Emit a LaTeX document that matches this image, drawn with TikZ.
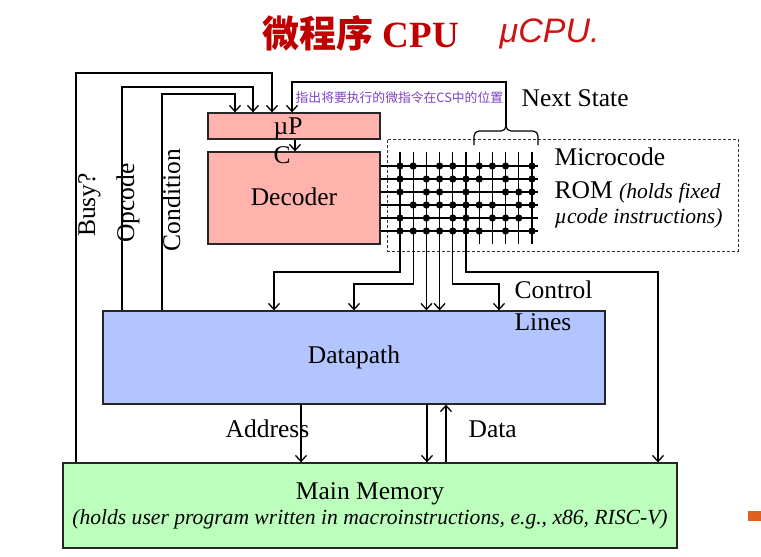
\documentclass[tikz,border=0pt]{standalone}
\usepackage{fontspec}
\setmainfont{Liberation Serif}
\newfontfamily\cjk{Noto Sans CJK SC}
\newfontfamily\hand{Liberation Sans}
\usetikzlibrary{arrows.meta}
\definecolor{pinkf}{RGB}{255,179,172}
\definecolor{bluef}{RGB}{179,197,255}
\definecolor{greenf}{RGB}{188,255,188}
\definecolor{titred}{RGB}{192,0,0}
\definecolor{handred}{RGB}{205,20,20}
\definecolor{purp}{RGB}{125,65,195}
\definecolor{orng}{RGB}{224,96,32}
\tikzset{
  boxx/.style={draw=black!85, line width=1.3pt, inner sep=0pt},
  txt/.style={font=\fontsize{25.5}{29}\selectfont, inner sep=0pt},
  itx/.style={font=\fontsize{21.6}{25}\selectfont\itshape, inner sep=0pt},
  arr/.style={-{Straight Barb[length=6pt,width=11pt]}},
  gridl/.style={line width=1.2pt}
}
\begin{document}
\begin{tikzpicture}[x=1pt, y=-1pt, line width=1.3pt]
\useasboundingbox (0,0) rectangle (761,557);
% title
\node[anchor=base west, inner sep=0pt, text=titred, font=\fontsize{37}{40}\selectfont] (title) at (262,47) {{\cjk\bfseries 微程序} \textbf{CPU}};
\node[anchor=base west, inner sep=0pt, text=handred, font=\fontsize{34}{36}\selectfont] (hand) at (499,42) {\hand\itshape μCPU.};
% boxes
\node[boxx, fill=pinkf, minimum width=172pt, minimum height=26pt] (mup) at (294,126) {};
\node[boxx, fill=pinkf, minimum width=172pt, minimum height=92pt] (dec) at (294,198) {};
\node[draw=black!80, line width=1pt, dash pattern=on 3pt off 2pt, minimum width=351pt, minimum height=112pt, inner sep=0pt] (rom) at (562.5,195) {};
\node[boxx, fill=bluef, minimum width=502pt, minimum height=93pt] (dp) at (354,357.5) {};
\node[boxx, fill=greenf, minimum width=614pt, minimum height=85pt] (mem) at (370,505.5) {};
% box texts
\node[txt, anchor=base west, align=left] (muptxt) at (273,163) {µP\\C};
\node[txt] (dectxt) at (294,197) {Decoder};
\node[txt] (dptxt) at (354,357) {Datapath};
\node[txt, anchor=base] (memtxt) at (370,499) {Main Memory};
\node[itx, anchor=base] (memsub) at (370,524) {(holds user program written in macroinstructions, e.g., x86, RISC-V)};
% ROM texts
\node[txt, anchor=base west] (romt1) at (554,165) {Microcode};
\node[txt, anchor=base west] (romt2) at (554,198) {ROM {\itshape\fontsize{21.6}{25}\selectfont (holds fixed}};
\node[itx, anchor=base west] (romt3) at (554,223) {µcode instructions)};
% other labels
\node[inner sep=0pt, anchor=west, text=purp, font=\fontsize{12.8}{14}\selectfont\cjk] (note) at (295,98) {指出将要执行的微指令在CS中的位置};
\node[txt, anchor=west] (nexts) at (521,98) {Next State};
\node[txt, anchor=base west] (ctl1) at (514,298) {Control};
\node[txt, anchor=base west] (ctl2) at (514,330) {Lines};
\node[txt, anchor=base west] (addr) at (225,437) {Address};
\node[txt, anchor=base west] (data) at (468,437) {Data};
\node[txt, anchor=base, rotate=90] (busy) at (95,205) {Busy?};
\node[txt, anchor=base, rotate=90] (opc) at (134,203) {Opcode};
\node[txt, anchor=base, rotate=90] (cond) at (180,200) {Condition};
% orange square
\node[fill=orng, minimum width=13pt, minimum height=10pt, inner sep=0pt] (orsq) at (754.5,516) {};
% feedback lines into muPC
\draw[arr] (76,0 |- mem.north) -- (76,73) -| (272,0 |- mup.north);
\draw[arr] (122,0 |- dp.north) -- (122,87) -| (253,0 |- mup.north);
\draw[arr] (162,0 |- dp.north) -- (162,94) -| (235,0 |- mup.north);
\coordinate (btip) at (506,126);
\draw[arr] (btip) -- (506,82) -| (292,0 |- mup.north);
% brace
\draw[line width=1.2pt] (474,145) -- (474,136) to[out=90,in=180] (479,131) -- (501,131) to[out=0,in=270] (btip) to[out=270,in=180] (511,131) -- (533,131) to[out=0,in=90] (538,136) -- (538,145);
% muPC to decoder
\draw[arr] (295,0 |- mup.south) -- (295,0 |- dec.north);
% grid
\foreach \j in {0,...,5} {
  \draw[gridl] (dec.east |- 0,{166+13*\j}) -- (538,{166+13*\j});
}
\foreach \i in {1,...,11} {
  \coordinate (c\i) at ({400+13.2*(\i-1)},152);
}
\foreach \i in {7,...,11} {
  \draw[gridl] (c\i) -- ++(0,92);
}
% control lines
\draw[arr] (c1) -- (c1 |- 0,272) -| (274,0 |- dp.north);
\draw[arr] (c2) -- (c2 |- 0,284) -| (354,0 |- dp.north);
\draw[arr] (c3) -- (c3 |- dp.north);
\draw[arr] (c4) -- (c4 |- dp.north);
\draw[arr] (c5) -- (c5 |- 0,284) -| (499,0 |- dp.north);
\draw[arr] (c6) -- (c6 |- 0,272) -| (658,0 |- mem.north);
% dots
\foreach \r/\cols in {0/{1,2,4,5,7,8,9,11},1/{1,3,4,5,6,7,9,11},2/{1,3,4,6,9,10,11},3/{2,3,4,5,6,7,8,10,11},4/{1,3,5,6,8,9,10},5/{1,2,3,4,5,6,7,9,11}} {
  \foreach \c in \cols {
    \fill ({400+13.2*(\c-1)},{166+13*\r}) circle (3.6pt);
  }
}
% memory bus
\draw[arr] (301,0 |- dp.south) -- (301,0 |- mem.north);
\draw[arr] (427,0 |- dp.south) -- (427,0 |- mem.north);
\draw[arr] (446,0 |- mem.north) -- (446,0 |- dp.south);
\end{tikzpicture}
\end{document}
